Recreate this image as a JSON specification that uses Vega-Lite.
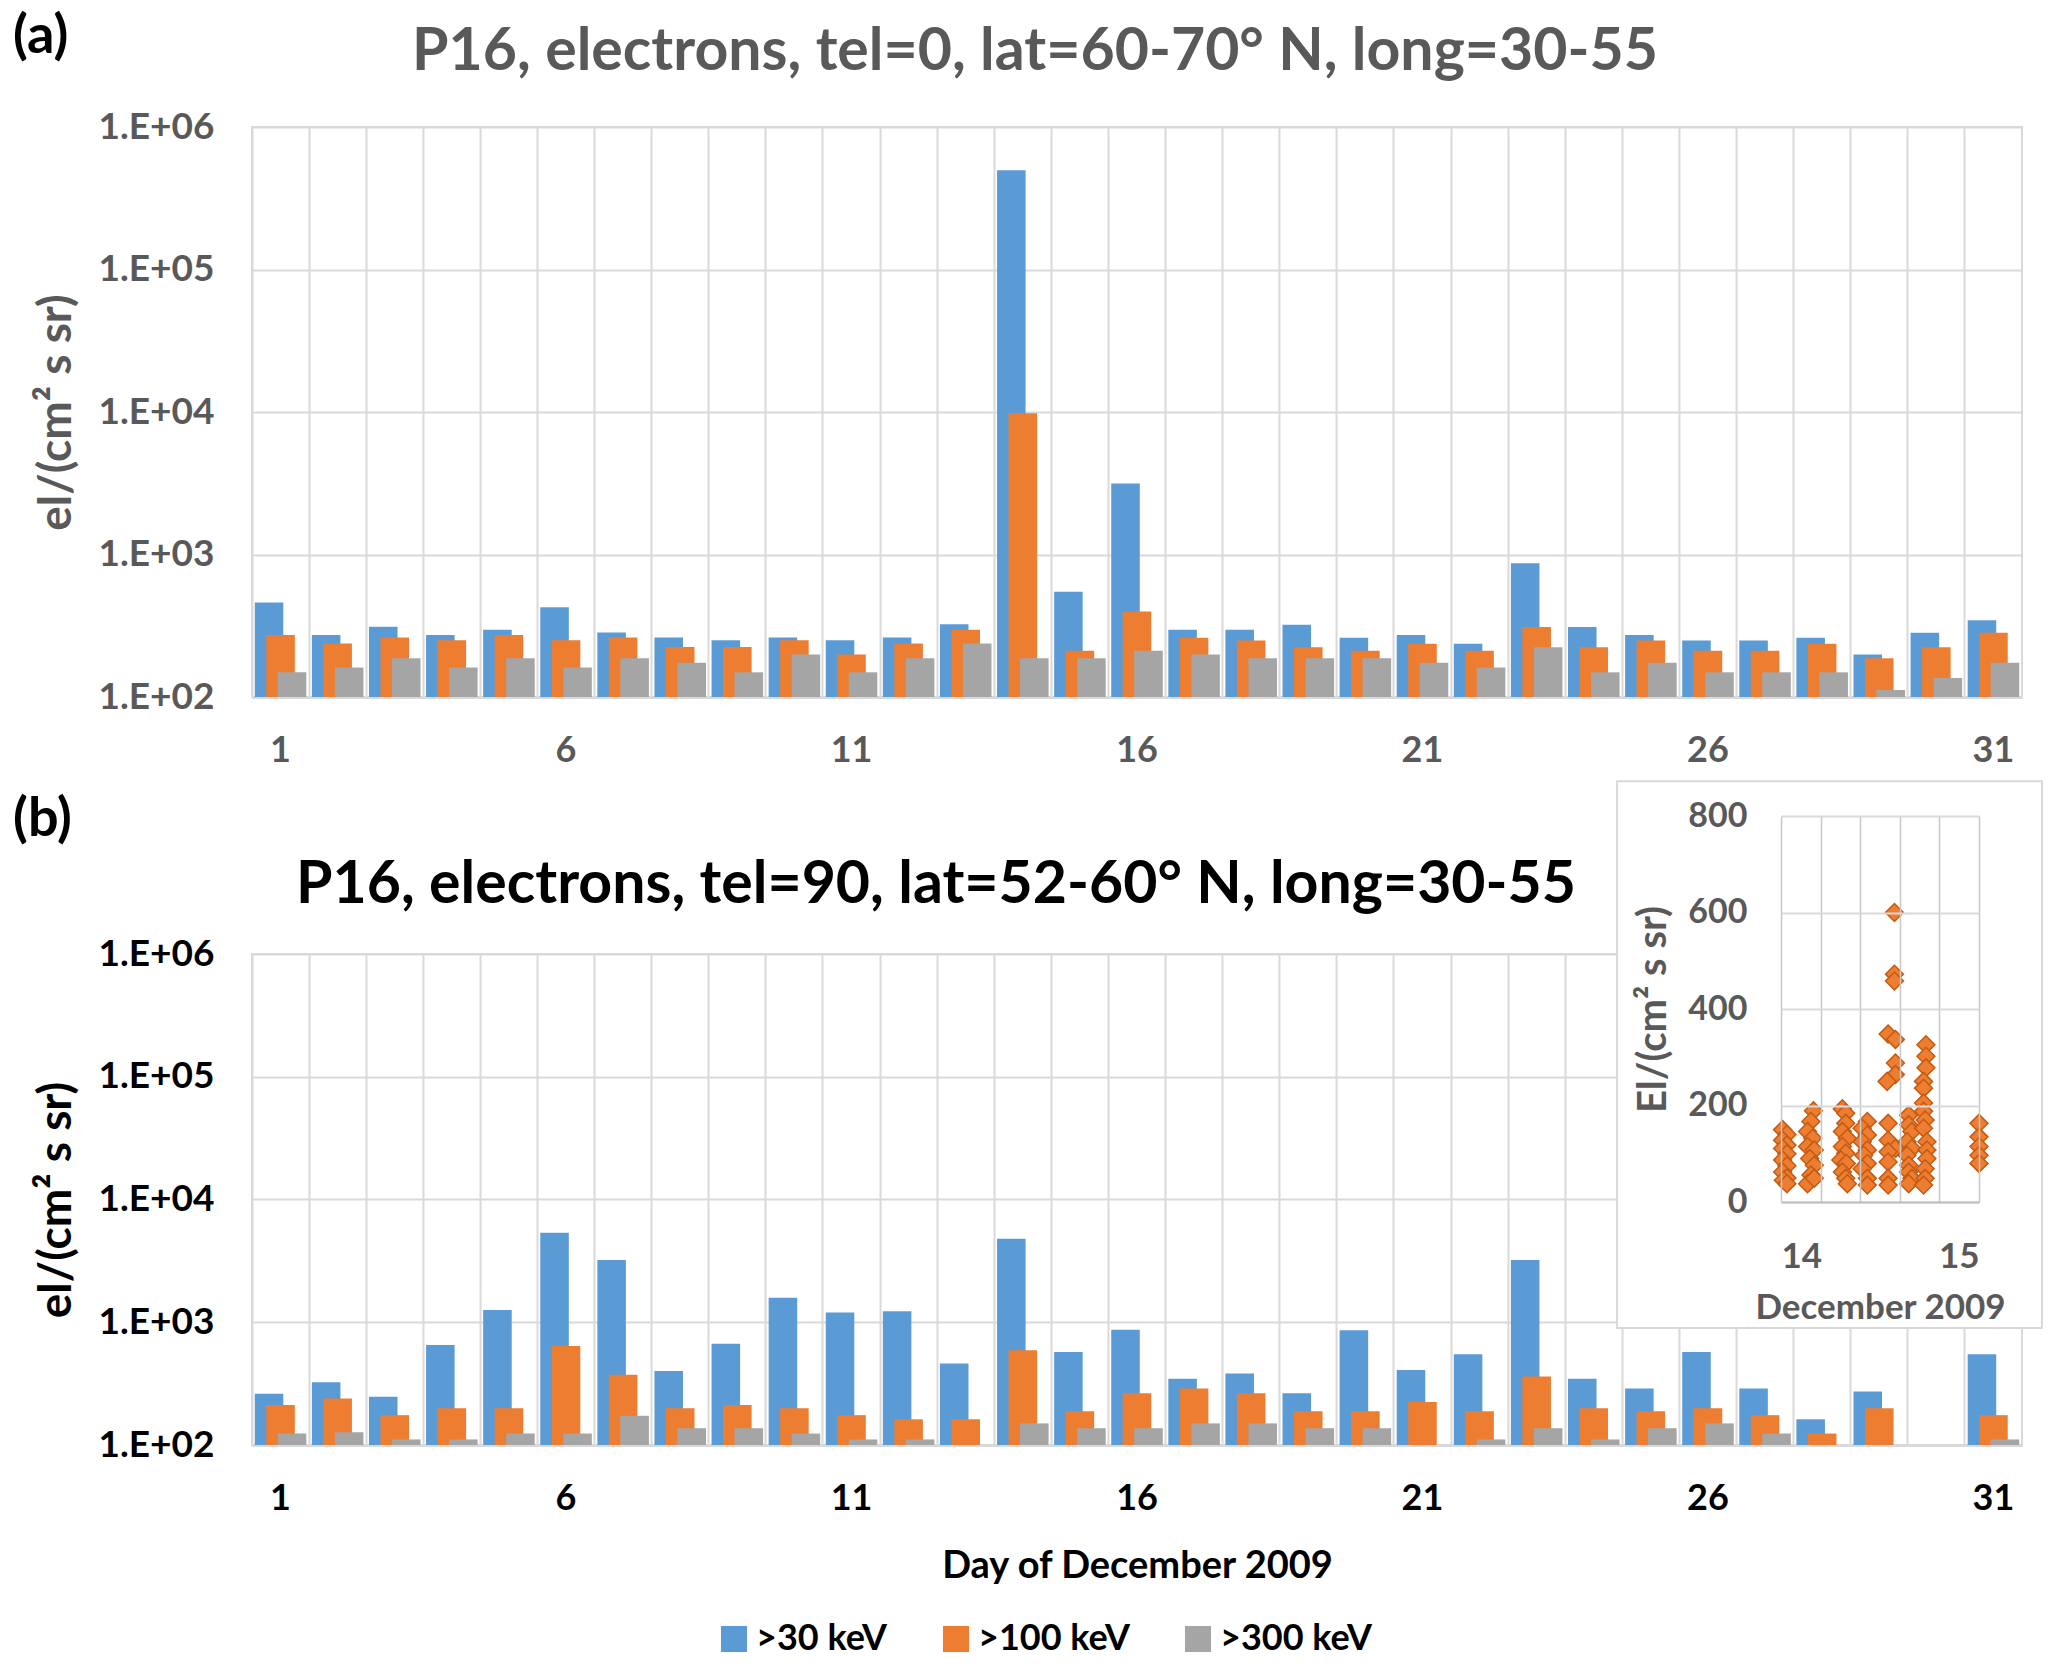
{
  "$schema": "https://vega.github.io/schema/vega-lite/v6.json",
  "background": "white",
  "padding": {"left": 13, "top": 10, "right": 0, "bottom": 0},
  "config": {
    "font": "Lato",
    "view": {"stroke": "#D9D9D9", "strokeWidth": 2},
    "axis": {"labelFont": "Lato", "titleFont": "Lato", "labelFontWeight": "bold", "titleFontWeight": "bold"},
    "title": {"font": "Lato", "fontWeight": "bold"}
  },
  "datasets": {
    "bars": [
      {"p":"a","d":1,"s":">30 keV","v":460},{"p":"a","d":1,"s":">100 keV","v":272},{"p":"a","d":1,"s":">300 keV","v":149},
      {"p":"a","d":2,"s":">30 keV","v":272},{"p":"a","d":2,"s":">100 keV","v":237},{"p":"a","d":2,"s":">300 keV","v":161},
      {"p":"a","d":3,"s":">30 keV","v":311},{"p":"a","d":3,"s":">100 keV","v":262},{"p":"a","d":3,"s":">300 keV","v":187},
      {"p":"a","d":4,"s":">30 keV","v":272},{"p":"a","d":4,"s":">100 keV","v":250},{"p":"a","d":4,"s":">300 keV","v":161},
      {"p":"a","d":5,"s":">30 keV","v":297},{"p":"a","d":5,"s":">100 keV","v":272},{"p":"a","d":5,"s":">300 keV","v":187},
      {"p":"a","d":6,"s":">30 keV","v":426},{"p":"a","d":6,"s":">100 keV","v":250},{"p":"a","d":6,"s":">300 keV","v":161},
      {"p":"a","d":7,"s":">30 keV","v":283},{"p":"a","d":7,"s":">100 keV","v":262},{"p":"a","d":7,"s":">300 keV","v":187},
      {"p":"a","d":8,"s":">30 keV","v":262},{"p":"a","d":8,"s":">100 keV","v":224},{"p":"a","d":8,"s":">300 keV","v":174},
      {"p":"a","d":9,"s":">30 keV","v":250},{"p":"a","d":9,"s":">100 keV","v":224},{"p":"a","d":9,"s":">300 keV","v":149},
      {"p":"a","d":10,"s":">30 keV","v":262},{"p":"a","d":10,"s":">100 keV","v":250},{"p":"a","d":10,"s":">300 keV","v":199},
      {"p":"a","d":11,"s":">30 keV","v":250},{"p":"a","d":11,"s":">100 keV","v":199},{"p":"a","d":11,"s":">300 keV","v":149},
      {"p":"a","d":12,"s":">30 keV","v":262},{"p":"a","d":12,"s":">100 keV","v":237},{"p":"a","d":12,"s":">300 keV","v":187},
      {"p":"a","d":13,"s":">30 keV","v":324},{"p":"a","d":13,"s":">100 keV","v":297},{"p":"a","d":13,"s":">300 keV","v":237},
      {"p":"a","d":14,"s":">30 keV","v":498000},{"p":"a","d":14,"s":">100 keV","v":9800},{"p":"a","d":14,"s":">300 keV","v":187},
      {"p":"a","d":15,"s":">30 keV","v":548},{"p":"a","d":15,"s":">100 keV","v":211},{"p":"a","d":15,"s":">300 keV","v":187},
      {"p":"a","d":16,"s":">30 keV","v":3150},{"p":"a","d":16,"s":">100 keV","v":398},{"p":"a","d":16,"s":">300 keV","v":211},
      {"p":"a","d":17,"s":">30 keV","v":296},{"p":"a","d":17,"s":">100 keV","v":261},{"p":"a","d":17,"s":">300 keV","v":199},
      {"p":"a","d":18,"s":">30 keV","v":296},{"p":"a","d":18,"s":">100 keV","v":249},{"p":"a","d":18,"s":">300 keV","v":187},
      {"p":"a","d":19,"s":">30 keV","v":322},{"p":"a","d":19,"s":">100 keV","v":223},{"p":"a","d":19,"s":">300 keV","v":187},
      {"p":"a","d":20,"s":">30 keV","v":261},{"p":"a","d":20,"s":">100 keV","v":211},{"p":"a","d":20,"s":">300 keV","v":187},
      {"p":"a","d":21,"s":">30 keV","v":272},{"p":"a","d":21,"s":">100 keV","v":236},{"p":"a","d":21,"s":">300 keV","v":174},
      {"p":"a","d":22,"s":">30 keV","v":236},{"p":"a","d":22,"s":">100 keV","v":211},{"p":"a","d":22,"s":">300 keV","v":161},
      {"p":"a","d":23,"s":">30 keV","v":869},{"p":"a","d":23,"s":">100 keV","v":310},{"p":"a","d":23,"s":">300 keV","v":223},
      {"p":"a","d":24,"s":">30 keV","v":310},{"p":"a","d":24,"s":">100 keV","v":223},{"p":"a","d":24,"s":">300 keV","v":149},
      {"p":"a","d":25,"s":">30 keV","v":272},{"p":"a","d":25,"s":">100 keV","v":249},{"p":"a","d":25,"s":">300 keV","v":174},
      {"p":"a","d":26,"s":">30 keV","v":249},{"p":"a","d":26,"s":">100 keV","v":211},{"p":"a","d":26,"s":">300 keV","v":149},
      {"p":"a","d":27,"s":">30 keV","v":249},{"p":"a","d":27,"s":">100 keV","v":211},{"p":"a","d":27,"s":">300 keV","v":149},
      {"p":"a","d":28,"s":">30 keV","v":261},{"p":"a","d":28,"s":">100 keV","v":236},{"p":"a","d":28,"s":">300 keV","v":149},
      {"p":"a","d":29,"s":">30 keV","v":199},{"p":"a","d":29,"s":">100 keV","v":187},{"p":"a","d":29,"s":">300 keV","v":112},
      {"p":"a","d":30,"s":">30 keV","v":282},{"p":"a","d":30,"s":">100 keV","v":223},{"p":"a","d":30,"s":">300 keV","v":136},
      {"p":"a","d":31,"s":">30 keV","v":346},{"p":"a","d":31,"s":">100 keV","v":282},{"p":"a","d":31,"s":">300 keV","v":174},
      {"p":"b","d":1,"s":">30 keV","v":261},{"p":"b","d":1,"s":">100 keV","v":212},{"p":"b","d":1,"s":">300 keV","v":124},
      {"p":"b","d":2,"s":">30 keV","v":325},{"p":"b","d":2,"s":">100 keV","v":239},{"p":"b","d":2,"s":">300 keV","v":127},
      {"p":"b","d":3,"s":">30 keV","v":247},{"p":"b","d":3,"s":">100 keV","v":175},{"p":"b","d":3,"s":">300 keV","v":111},
      {"p":"b","d":4,"s":">30 keV","v":653},{"p":"b","d":4,"s":">100 keV","v":199},{"p":"b","d":4,"s":">300 keV","v":111},
      {"p":"b","d":5,"s":">30 keV","v":1259},{"p":"b","d":5,"s":">100 keV","v":199},{"p":"b","d":5,"s":">300 keV","v":124},
      {"p":"b","d":6,"s":">30 keV","v":5370},{"p":"b","d":6,"s":">100 keV","v":640},{"p":"b","d":6,"s":">300 keV","v":124},
      {"p":"b","d":7,"s":">30 keV","v":3215},{"p":"b","d":7,"s":">100 keV","v":374},{"p":"b","d":7,"s":">300 keV","v":173},
      {"p":"b","d":8,"s":">30 keV","v":400},{"p":"b","d":8,"s":">100 keV","v":199},{"p":"b","d":8,"s":">300 keV","v":137},
      {"p":"b","d":9,"s":">30 keV","v":668},{"p":"b","d":9,"s":">100 keV","v":212},{"p":"b","d":9,"s":">300 keV","v":137},
      {"p":"b","d":10,"s":">30 keV","v":1581},{"p":"b","d":10,"s":">100 keV","v":199},{"p":"b","d":10,"s":">300 keV","v":124},
      {"p":"b","d":11,"s":">30 keV","v":1203},{"p":"b","d":11,"s":">100 keV","v":175},{"p":"b","d":11,"s":">300 keV","v":111},
      {"p":"b","d":12,"s":">30 keV","v":1231},{"p":"b","d":12,"s":">100 keV","v":162},{"p":"b","d":12,"s":">300 keV","v":111},
      {"p":"b","d":13,"s":">30 keV","v":461},{"p":"b","d":13,"s":">100 keV","v":162},
      {"p":"b","d":14,"s":">30 keV","v":4800},{"p":"b","d":14,"s":">100 keV","v":592},{"p":"b","d":14,"s":">300 keV","v":150},
      {"p":"b","d":15,"s":">30 keV","v":573},{"p":"b","d":15,"s":">100 keV","v":188},{"p":"b","d":15,"s":">300 keV","v":137},
      {"p":"b","d":16,"s":">30 keV","v":867},{"p":"b","d":16,"s":">100 keV","v":264},{"p":"b","d":16,"s":">300 keV","v":137},
      {"p":"b","d":17,"s":">30 keV","v":347},{"p":"b","d":17,"s":">100 keV","v":288},{"p":"b","d":17,"s":">300 keV","v":150},
      {"p":"b","d":18,"s":">30 keV","v":383},{"p":"b","d":18,"s":">100 keV","v":264},{"p":"b","d":18,"s":">300 keV","v":150},
      {"p":"b","d":19,"s":">30 keV","v":264},{"p":"b","d":19,"s":">100 keV","v":188},{"p":"b","d":19,"s":">300 keV","v":137},
      {"p":"b","d":20,"s":">30 keV","v":859},{"p":"b","d":20,"s":">100 keV","v":188},{"p":"b","d":20,"s":">300 keV","v":137},
      {"p":"b","d":21,"s":">30 keV","v":408},{"p":"b","d":21,"s":">100 keV","v":224},
      {"p":"b","d":22,"s":">30 keV","v":548},{"p":"b","d":22,"s":">100 keV","v":188},{"p":"b","d":22,"s":">300 keV","v":111},
      {"p":"b","d":23,"s":">30 keV","v":3215},{"p":"b","d":23,"s":">100 keV","v":362},{"p":"b","d":23,"s":">300 keV","v":137},
      {"p":"b","d":24,"s":">30 keV","v":347},{"p":"b","d":24,"s":">100 keV","v":199},{"p":"b","d":24,"s":">300 keV","v":111},
      {"p":"b","d":25,"s":">30 keV","v":288},{"p":"b","d":25,"s":">100 keV","v":188},{"p":"b","d":25,"s":">300 keV","v":137},
      {"p":"b","d":26,"s":">30 keV","v":573},{"p":"b","d":26,"s":">100 keV","v":199},{"p":"b","d":26,"s":">300 keV","v":150},
      {"p":"b","d":27,"s":">30 keV","v":288},{"p":"b","d":27,"s":">100 keV","v":175},{"p":"b","d":27,"s":">300 keV","v":124},
      {"p":"b","d":28,"s":">30 keV","v":162},{"p":"b","d":28,"s":">100 keV","v":124},
      {"p":"b","d":29,"s":">30 keV","v":273},{"p":"b","d":29,"s":">100 keV","v":199},
      {"p":"b","d":31,"s":">30 keV","v":548},{"p":"b","d":31,"s":">100 keV","v":175},{"p":"b","d":31,"s":">300 keV","v":111}
    ],
    "inset": [
      {"t":14.008,"f":150},{"t":14.03,"f":140},{"t":14.008,"f":128},{"t":14.03,"f":118},{"t":14.008,"f":111},{"t":14.03,"f":100},{"t":14.008,"f":87},{"t":14.03,"f":75},{"t":14.008,"f":62},{"t":14.03,"f":50},{"t":14.012,"f":45},{"t":14.03,"f":38},
      {"t":14.164,"f":189},{"t":14.151,"f":167},{"t":14.134,"f":146},{"t":14.16,"f":132},{"t":14.134,"f":115},{"t":14.168,"f":108},{"t":14.145,"f":90},{"t":14.168,"f":76},{"t":14.151,"f":56},{"t":14.134,"f":38},{"t":14.168,"f":49},
      {"t":14.31,"f":193},{"t":14.327,"f":184},{"t":14.327,"f":163},{"t":14.31,"f":146},{"t":14.335,"f":132},{"t":14.31,"f":115},{"t":14.327,"f":101},{"t":14.302,"f":87},{"t":14.33,"f":80},{"t":14.31,"f":62},{"t":14.327,"f":49},{"t":14.335,"f":38},
      {"t":14.436,"f":167},{"t":14.41,"f":153},{"t":14.436,"f":139},{"t":14.41,"f":125},{"t":14.436,"f":108},{"t":14.418,"f":97},{"t":14.436,"f":80},{"t":14.41,"f":69},{"t":14.436,"f":49},{"t":14.436,"f":35},
      {"t":14.573,"f":600},{"t":14.573,"f":472},{"t":14.573,"f":458},{"t":14.541,"f":348},{"t":14.578,"f":337},{"t":14.578,"f":288},{"t":14.578,"f":264},{"t":14.536,"f":250},{"t":14.541,"f":163},{"t":14.541,"f":128},{"t":14.578,"f":111},{"t":14.541,"f":104},{"t":14.541,"f":83},{"t":14.541,"f":49},{"t":14.541,"f":35},
      {"t":14.645,"f":180},{"t":14.645,"f":160},{"t":14.661,"f":146},{"t":14.636,"f":125},{"t":14.661,"f":111},{"t":14.636,"f":97},{"t":14.645,"f":76},{"t":14.645,"f":62},{"t":14.661,"f":49},{"t":14.645,"f":38},
      {"t":14.732,"f":326},{"t":14.732,"f":302},{"t":14.732,"f":278},{"t":14.72,"f":250},{"t":14.72,"f":236},{"t":14.72,"f":205},{"t":14.72,"f":188},{"t":14.728,"f":170},{"t":14.72,"f":153},{"t":14.737,"f":125},{"t":14.737,"f":108},{"t":14.737,"f":90},{"t":14.728,"f":69},{"t":14.728,"f":49},{"t":14.72,"f":35},
      {"t":15.0,"f":163},{"t":15.0,"f":135},{"t":15.0,"f":115},{"t":15.0,"f":97},{"t":15.0,"f":80}
    ]
  },
  "spacing": 10,
  "resolve": {"legend": {"color": "independent"}},
  "vconcat": [
    {
      "title": {"text": "(a)", "anchor": "start", "frame": "bounds", "fontSize": 54, "color": "black", "offset": -42.5, "dx": -19},
      "resolve": {"legend": {"color": "independent"}},
      "vconcat": [
        {
          "width": 1770,
          "height": 570,
          "title": {"text": "P16, electrons, tel=0, lat=60-70° N, long=30-55", "frame": "group", "anchor": "middle", "dx": -102, "fontSize": 59, "color": "#595959", "offset": 26.5},
          "data": {"name": "bars"},
          "transform": [{"filter": "datum.p == 'a'"}],
          "encoding": {
            "x": {
              "field": "d", "type": "ordinal",
              "scale": {"domain": [1,2,3,4,5,6,7,8,9,10,11,12,13,14,15,16,17,18,19,20,21,22,23,24,25,26,27,28,29,30,31], "paddingInner": 0, "paddingOuter": 0},
              "axis": {"title": null, "bandPosition": 0, "grid": true, "gridColor": "#D9D9D9", "gridWidth": 2, "ticks": false, "domain": true, "domainColor": "#D9D9D9", "domainWidth": 3, "labelAngle": 0, "labelExpr": "(datum.value - 1) % 5 == 0 ? datum.label : ''", "labelOverlap": false, "labelPadding": 36, "labelFontSize": 36, "labelColor": "#595959"}
            },
            "y": {
              "field": "v", "type": "quantitative", "stack": null,
              "scale": {"type": "log", "domain": [100, 1000000]},
              "axis": {"values": [100, 1000, 10000, 100000, 1000000], "labelExpr": "'1.E+0' + round(log(datum.value)/LN10)", "grid": true, "gridColor": "#D9D9D9", "gridWidth": 2, "domain": false, "ticks": false, "labelPadding": 38, "labelFontSize": 37, "labelColor": "#595959", "title": "el/(cm² s sr)", "titleFontSize": 46, "titleColor": "#595959", "titlePadding": 18}
            },
            "color": {
              "field": "s", "type": "nominal",
              "scale": {"domain": [">30 keV", ">100 keV", ">300 keV"], "range": ["#5B9BD5", "#ED7D31", "#A5A5A5"]},
              "legend": null
            }
          },
          "layer": [
            {"transform": [{"filter": "datum.s == '>30 keV'"}], "mark": {"type": "bar", "width": {"band": 0.5}, "xOffset": -11.5}},
            {"transform": [{"filter": "datum.s == '>100 keV'"}], "mark": {"type": "bar", "width": {"band": 0.5}, "xOffset": 0}},
            {"transform": [{"filter": "datum.s == '>300 keV'"}], "mark": {"type": "bar", "width": {"band": 0.5}, "xOffset": 11.5}}
          ]
        }
      ]
    },
    {
      "title": {"text": "(b)", "anchor": "start", "frame": "bounds", "fontSize": 54, "color": "black", "offset": -68, "dx": -19},
      "resolve": {"legend": {"color": "independent"}},
      "vconcat": [
        {
          "width": 1770,
          "height": 491,
          "title": {"text": "P16, electrons, tel=90, lat=52-60° N, long=30-55", "frame": "group", "anchor": "middle", "dx": -201, "fontSize": 59, "color": "black", "offset": -135},
          "layer": [
            {
              "data": {"name": "bars"},
              "transform": [{"filter": "datum.p == 'b'"}],
              "encoding": {
                "x": {
                  "field": "d", "type": "ordinal",
                  "scale": {"domain": [1,2,3,4,5,6,7,8,9,10,11,12,13,14,15,16,17,18,19,20,21,22,23,24,25,26,27,28,29,30,31], "paddingInner": 0, "paddingOuter": 0},
                  "axis": {"title": "Day of December 2009", "titleFontSize": 38, "titleColor": "black", "titlePadding": 31, "bandPosition": 0, "grid": true, "gridColor": "#D9D9D9", "gridWidth": 2, "ticks": false, "domain": true, "domainColor": "#D9D9D9", "domainWidth": 3, "labelAngle": 0, "labelExpr": "(datum.value - 1) % 5 == 0 ? datum.label : ''", "labelOverlap": false, "labelPadding": 36, "labelFontSize": 36, "labelColor": "black"}
                },
                "y": {
                  "field": "v", "type": "quantitative", "stack": null,
                  "scale": {"type": "log", "domain": [100, 1000000]},
                  "axis": {"values": [100, 1000, 10000, 100000, 1000000], "labelExpr": "'1.E+0' + round(log(datum.value)/LN10)", "grid": true, "gridColor": "#D9D9D9", "gridWidth": 2, "domain": false, "ticks": false, "labelPadding": 38, "labelFontSize": 37, "labelColor": "black", "title": "el/(cm² s sr)", "titleFontSize": 46, "titleColor": "black", "titlePadding": 18}
                },
                "color": {
                  "field": "s", "type": "nominal",
                  "scale": {"domain": [">30 keV", ">100 keV", ">300 keV"], "range": ["#5B9BD5", "#ED7D31", "#A5A5A5"]},
                  "legend": {"title": null, "orient": "none", "direction": "horizontal", "legendX": 464, "legendY": 667, "symbolType": "square", "symbolSize": 680, "symbolStrokeWidth": 0, "labelFontSize": 36, "labelFontWeight": "bold", "labelColor": "black", "labelFont": "Lato", "columnPadding": 50}
                }
              },
              "layer": [
                {"transform": [{"filter": "datum.s == '>30 keV'"}], "mark": {"type": "bar", "width": {"band": 0.5}, "xOffset": -11.5}},
                {"transform": [{"filter": "datum.s == '>100 keV'"}], "mark": {"type": "bar", "width": {"band": 0.5}, "xOffset": 0}},
                {"transform": [{"filter": "datum.s == '>300 keV'"}], "mark": {"type": "bar", "width": {"band": 0.5}, "xOffset": 11.5}}
              ]
            },
            {
              "data": {"values": [{}]},
              "mark": {"type": "rect", "fill": "white", "stroke": "#D9D9D9", "strokeWidth": 2},
              "encoding": {
                "x": {"datum": 13.172, "type": "quantitative", "scale": {"domain": [14, 15], "range": [1529, 1727], "nice": false, "zero": false},
                  "axis": {"orient": "bottom", "offset": -243, "values": [14, 15], "format": "d", "grid": false, "ticks": false, "domain": true, "domainColor": "#BFBFBF", "domainWidth": 2, "labelPadding": 37, "labelFontSize": 35, "labelColor": "#595959", "title": "December 2009", "titleFontSize": 35, "titleColor": "#595959", "titlePadding": 16, "zindex": 1}},
                "x2": {"datum": 15.318},
                "y": {"datum": -261, "type": "quantitative", "scale": {"domain": [0, 800], "range": [248, -138], "nice": false, "zero": false}, "axis": null},
                "y2": {"datum": 872}
              }
            },
            {
              "data": {"name": "inset"},
              "mark": {"type": "point", "shape": "diamond", "filled": true, "fill": "#ED7D31", "stroke": "#C55A11", "strokeWidth": 1.5, "size": 320, "opacity": 1, "zindex": 2},
              "encoding": {
                "x": {"field": "t", "type": "quantitative", "scale": {"domain": [14, 15], "range": [1529, 1727], "nice": false, "zero": false},
                  "axis": {"orient": "top", "values": [14, 14.2, 14.4, 14.6, 14.8, 15], "grid": true, "gridColor": "#C8C8C8", "gridWidth": 1.5, "labels": false, "ticks": false, "domain": false, "title": null, "zindex": 1}},
                "y": {"field": "f", "type": "quantitative", "scale": {"domain": [0, 800], "range": [248, -138], "nice": false, "zero": false},
                  "axis": {"orient": "left", "offset": -1529, "values": [0, 200, 400, 600, 800], "grid": true, "gridColor": "#D9D9D9", "gridWidth": 2, "domain": false, "ticks": false, "labelPadding": 34, "labelFontSize": 34, "labelColor": "#595959", "title": "El/(cm² s sr)", "titleFontSize": 40, "titleColor": "#595959", "titlePadding": 14, "zindex": 1}}
              }
            }
          ],
          "resolve": {"scale": {"x": "independent", "y": "independent"}}
        }
      ]
    }
  ]
}
